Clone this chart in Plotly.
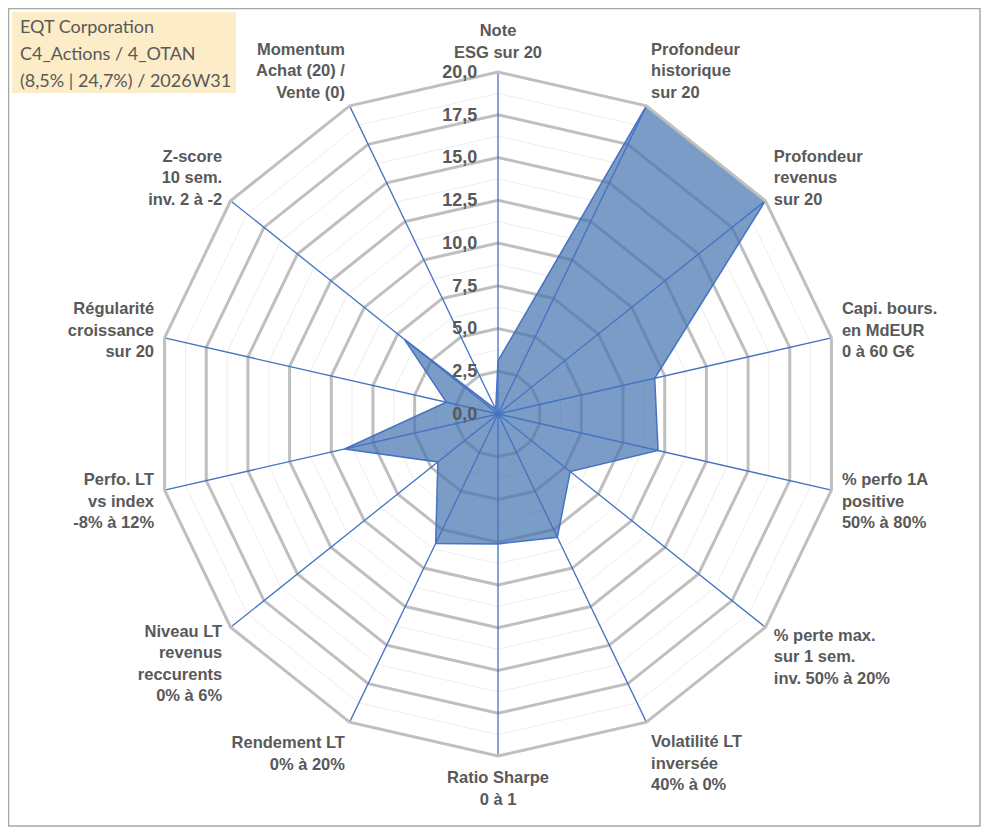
import plotly.graph_objects as go

# axes du radar (sens horaire, en partant du haut)
categories = [
    "Note<br>ESG sur 20",
    "Profondeur<br>historique<br>sur 20",
    "Profondeur<br>revenus<br>sur 20",
    "Capi. bours.<br>en MdEUR<br>0 à 60 G€",
    "% perfo 1A<br>positive<br>50% à 80%",
    "% perte max.<br>sur 1 sem.<br>inv. 50% à 20%",
    "Volatilité LT<br>inversée<br>40% à 0%",
    "Ratio Sharpe<br>0 à 1",
    "Rendement LT<br>0% à 20%",
    "Niveau LT<br>revenus<br>reccurents<br>0% à 6%",
    "Perfo. LT<br>vs index<br>-8% à 12%",
    "Régularité<br>croissance<br>sur 20",
    "Z-score<br>10 sem.<br>inv. 2 à -2",
    "Momentum<br>Achat (20) /<br>Vente (0)",
]
scores = [3.1, 20, 20, 9.4, 9.6, 5.4, 8.0, 7.6, 8.4, 4.5, 9.2, 3.1, 7.0, 0.3]

major_ticks = [0, 2.5, 5, 7.5, 10, 12.5, 15, 17.5, 20]
major_labels = ["0,0", "2,5", "5,0", "7,5", "10,0", "12,5", "15,0", "17,5", "20,0"]
minor_ticks = [1.25, 3.75, 6.25, 8.75, 11.25, 13.75, 16.25, 18.75]

title_lines = ["EQT Corporation", "C4_Actions / 4_OTAN", "(8,5% | 24,7%) / 2026W31"]

GRID = "#BFBFBF"
BLUE = "#4472C4"
TXT = "#595959"
FONT = "Arial"

# la page html ajoute 8 px de marge : on travaille en px de page
W, H, OFF = 983, 822, 8
CX, CY, R = 498, 414, 342


def px_x(x):
    return (x - OFF) / W


def px_y(y):
    return 1 - (y - OFF) / H


fig = go.Figure()

# cercles secondaires (fins)
for r in minor_ticks:
    fig.add_trace(go.Scatterpolar(
        r=[r] * (len(categories) + 1), theta=categories + [categories[0]],
        mode="lines", line=dict(color="#EDEDED", width=1),
        hoverinfo="skip", showlegend=False))

# la série
fig.add_trace(go.Scatterpolar(
    r=scores + [scores[0]], theta=categories + [categories[0]],
    mode="lines", fill="toself", fillcolor="rgba(65,114,174,0.7)",
    line=dict(color=BLUE, width=1.5), name="EQT Corporation", showlegend=False))

# rayons bleus par-dessus
for c in categories:
    fig.add_trace(go.Scatterpolar(
        r=[0, 20], theta=[c, c], mode="lines",
        line=dict(color=BLUE, width=1.3), hoverinfo="skip", showlegend=False))

fig.update_layout(
    width=W, height=H,
    margin=dict(l=0, r=0, t=0, b=0),
    paper_bgcolor="white",
    separators=", ",
    polar=dict(
        domain=dict(x=[px_x(CX - R), px_x(CX + R)], y=[px_y(CY + R), px_y(CY - R)]),
        gridshape="linear",
        bgcolor="white",
        radialaxis=dict(
            range=[0, 20], tickvals=major_ticks, ticktext=major_labels,
            angle=90, tickangle=90, side="counterclockwise",
            showline=False, ticks="outside", ticklen=14, tickcolor="rgba(0,0,0,0)",
            gridcolor=GRID, gridwidth=3,
            tickfont=dict(family=FONT, size=18, color=TXT, weight="bold"),
        ),
        angularaxis=dict(
            direction="clockwise", rotation=90,
            showgrid=False, showline=True, linecolor=GRID, linewidth=3,
            ticks="outside", ticklen=6, tickcolor="rgba(0,0,0,0)",
            tickfont=dict(family=FONT, size=16.5, color=TXT, weight="bold"),
        ),
    ),
)

# cartouche en haut à gauche
fig.add_shape(type="rect", xref="paper", yref="paper",
              x0=px_x(12), x1=px_x(236), y0=px_y(93), y1=px_y(12),
              fillcolor="#FCECC8", line=dict(width=0), layer="below")
for i, line in enumerate(title_lines):
    fig.add_annotation(
        text=line, xref="paper", yref="paper",
        x=px_x(18), y=px_y(26 + 27 * i), xanchor="left", yanchor="middle",
        showarrow=False, font=dict(family="Lato", size=18, color=TXT))

# cadre du graphique
fig.add_shape(type="rect", xref="paper", yref="paper",
              x0=0.0005, x1=px_x(980), y0=px_y(826), y1=0.9995,
              line=dict(color="#A6A6A6", width=1.5))

fig.write_html("out.html")
